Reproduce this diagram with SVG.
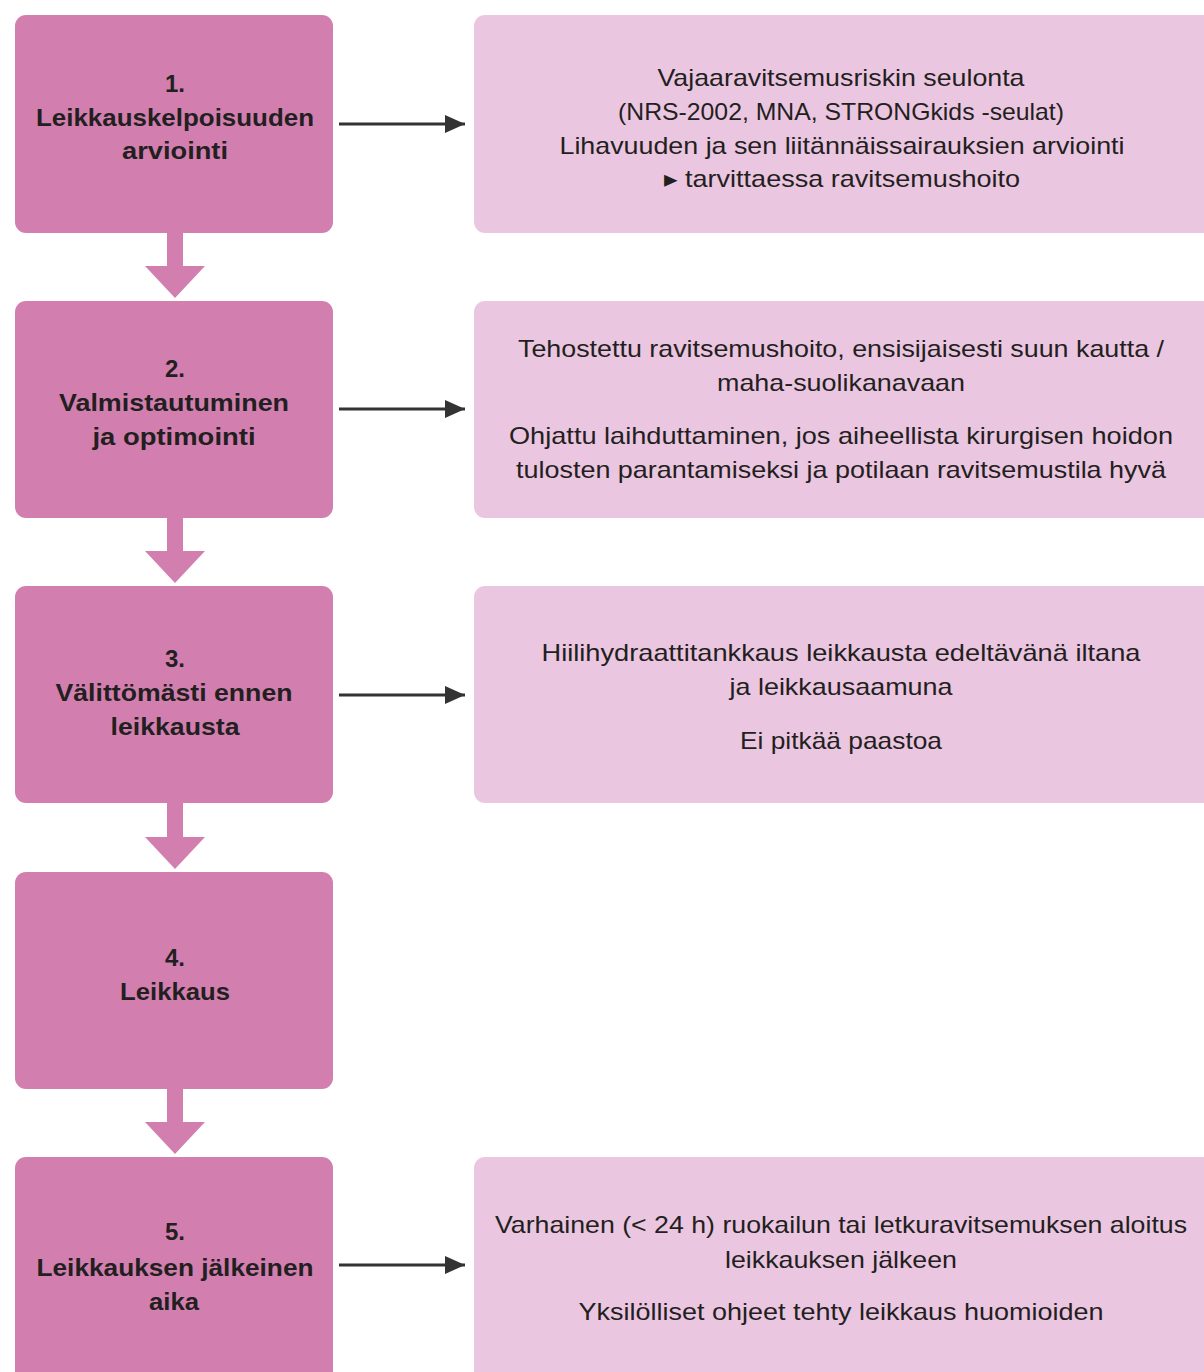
<svg xmlns="http://www.w3.org/2000/svg" width="1204" height="1372" viewBox="0 0 1204 1372">
<defs>
<style>
.step{fill:#d27fb0}
.info{fill:#ebc6e0}
.down{fill:#d27fb0}
.lt{font-family:"Liberation Sans",Arial,sans-serif;font-weight:bold;font-size:24px;fill:#231f20;text-anchor:middle}
.rt{font-family:"Liberation Sans",Arial,sans-serif;font-size:24px;fill:#231f20;text-anchor:middle}
.conn{stroke:#333333;stroke-width:3;fill:none}
</style>
<marker id="ah" viewBox="0 0 20 18" refX="20" refY="9" markerWidth="20" markerHeight="18" markerUnits="userSpaceOnUse" orient="auto">
<path d="M0,0 L20,9 L0,18 Z" fill="#333333"/>
</marker>
</defs>
<rect width="1204" height="1372" fill="#ffffff"/>

<g id="connectors">
<path class="down" d="M167,233 H183 V266 H205 L175,298 L145,266 H167 Z"/>
<path class="down" d="M167,518 H183 V551 H205 L175,583 L145,551 H167 Z"/>
<path class="down" d="M167,803 H183 V837 H205 L175,869 L145,837 H167 Z"/>
<path class="down" d="M167,1089 H183 V1122 H205 L175,1154 L145,1122 H167 Z"/>
<line class="conn" x1="339" y1="124" x2="465" y2="124" marker-end="url(#ah)"/>
<line class="conn" x1="339" y1="409" x2="465" y2="409" marker-end="url(#ah)"/>
<line class="conn" x1="339" y1="695" x2="465" y2="695" marker-end="url(#ah)"/>
<line class="conn" x1="339" y1="1265" x2="465" y2="1265" marker-end="url(#ah)"/>
</g>

<g id="step1">
<rect class="step" x="15" y="15" width="318" height="218" rx="11"/>
<text class="lt" x="175" y="92">1.</text>
<text class="lt" x="175" y="126" textLength="278" lengthAdjust="spacingAndGlyphs">Leikkauskelpoisuuden</text>
<text class="lt" x="175" y="159" textLength="106" lengthAdjust="spacingAndGlyphs">arviointi</text>
</g>
<g id="info1">
<rect class="info" x="474" y="15" width="745" height="218" rx="11"/>
<text class="rt" x="841" y="86" textLength="367" lengthAdjust="spacingAndGlyphs">Vajaaravitsemusriskin seulonta</text>
<text class="rt" x="841" y="120" textLength="446" lengthAdjust="spacingAndGlyphs">(NRS-2002, MNA, STRONGkids -seulat)</text>
<text class="rt" x="842" y="154" textLength="565" lengthAdjust="spacingAndGlyphs">Lihavuuden ja sen liitännäissairauksien arviointi</text>
<text class="rt" x="842" y="187" textLength="356" lengthAdjust="spacingAndGlyphs">▸ tarvittaessa ravitsemushoito</text>
</g>

<g id="step2">
<rect class="step" x="15" y="301" width="318" height="217" rx="11"/>
<text class="lt" x="175" y="377">2.</text>
<text class="lt" x="174" y="411" textLength="230" lengthAdjust="spacingAndGlyphs">Valmistautuminen</text>
<text class="lt" x="174" y="445" textLength="163" lengthAdjust="spacingAndGlyphs">ja optimointi</text>
</g>
<g id="info2">
<rect class="info" x="474" y="301" width="745" height="217" rx="11"/>
<text class="rt" x="841" y="357" textLength="646" lengthAdjust="spacingAndGlyphs">Tehostettu ravitsemushoito, ensisijaisesti suun kautta /</text>
<text class="rt" x="841" y="391" textLength="248" lengthAdjust="spacingAndGlyphs">maha-suolikanavaan</text>
<text class="rt" x="841" y="444" textLength="664" lengthAdjust="spacingAndGlyphs">Ohjattu laihduttaminen, jos aiheellista kirurgisen hoidon</text>
<text class="rt" x="841" y="478" textLength="650" lengthAdjust="spacingAndGlyphs">tulosten parantamiseksi ja potilaan ravitsemustila hyvä</text>
</g>

<g id="step3">
<rect class="step" x="15" y="586" width="318" height="217" rx="11"/>
<text class="lt" x="175" y="667">3.</text>
<text class="lt" x="174" y="701" textLength="237" lengthAdjust="spacingAndGlyphs">Välittömästi ennen</text>
<text class="lt" x="175" y="735" textLength="129" lengthAdjust="spacingAndGlyphs">leikkausta</text>
</g>
<g id="info3">
<rect class="info" x="474" y="586" width="745" height="217" rx="11"/>
<text class="rt" x="841" y="661" textLength="599" lengthAdjust="spacingAndGlyphs">Hiilihydraattitankkaus leikkausta edeltävänä iltana</text>
<text class="rt" x="841" y="695" textLength="223" lengthAdjust="spacingAndGlyphs">ja leikkausaamuna</text>
<text class="rt" x="841" y="749" textLength="202" lengthAdjust="spacingAndGlyphs">Ei pitkää paastoa</text>
</g>

<g id="step4">
<rect class="step" x="15" y="872" width="318" height="217" rx="11"/>
<text class="lt" x="175" y="966">4.</text>
<text class="lt" x="175" y="1000" textLength="110" lengthAdjust="spacingAndGlyphs">Leikkaus</text>
</g>

<g id="step5">
<rect class="step" x="15" y="1157" width="318" height="230" rx="11"/>
<text class="lt" x="175" y="1240">5.</text>
<text class="lt" x="175" y="1276" textLength="277" lengthAdjust="spacingAndGlyphs">Leikkauksen jälkeinen</text>
<text class="lt" x="174" y="1310" textLength="50" lengthAdjust="spacingAndGlyphs">aika</text>
</g>
<g id="info5">
<rect class="info" x="474" y="1157" width="745" height="230" rx="11"/>
<text class="rt" x="841" y="1233" textLength="692" lengthAdjust="spacingAndGlyphs">Varhainen (&lt; 24 h) ruokailun tai letkuravitsemuksen aloitus</text>
<text class="rt" x="841" y="1268" textLength="232" lengthAdjust="spacingAndGlyphs">leikkauksen jälkeen</text>
<text class="rt" x="841" y="1320" textLength="525" lengthAdjust="spacingAndGlyphs">Yksilölliset ohjeet tehty leikkaus huomioiden</text>
</g>
</svg>
